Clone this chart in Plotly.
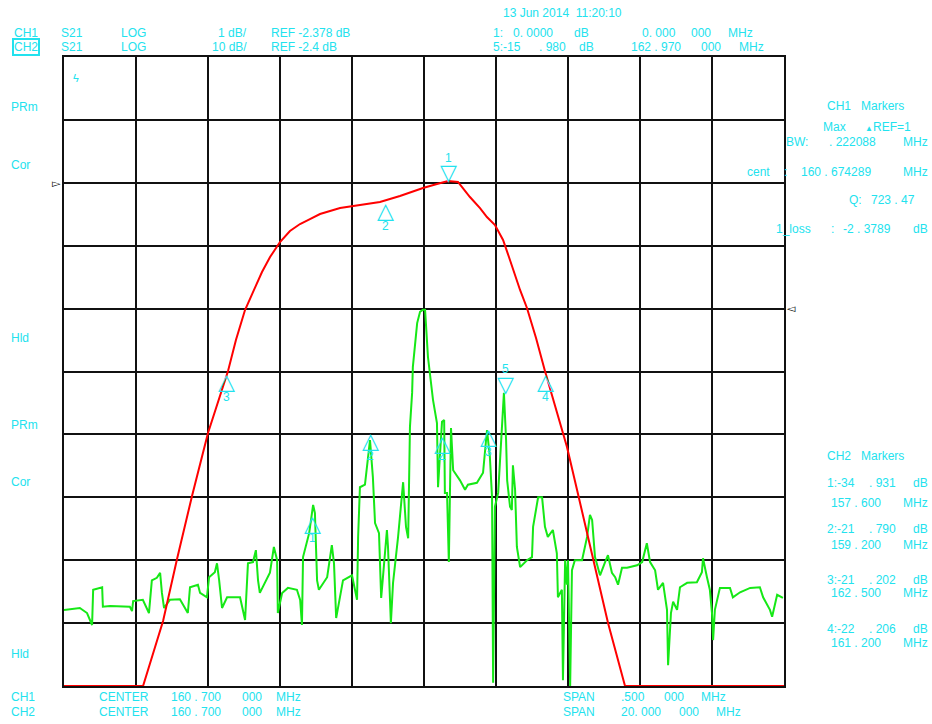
import plotly.graph_objects as go

# ---------------- data ----------------
# CH2 : S21, 10 dB/div, REF -2.4 dB, center 160.7 MHz, span 20 MHz
ch2_freq = [150.70, 151.14, 151.34, 151.48, 151.51, 151.76, 151.78, 151.98, 152.53, 152.59,
            152.62, 152.89, 153.06, 153.14, 153.28, 153.37, 153.42, 153.48, 153.64, 153.92,
            154.14, 154.20, 154.42, 154.48, 154.67, 154.73, 154.89, 154.95, 155.01, 155.09,
            155.23, 155.59, 155.73, 155.81, 155.95, 156.03, 156.09, 156.14, 156.42, 156.53,
            156.62, 156.64, 156.76, 156.92, 157.17, 157.26, 157.31, 157.34, 157.51, 157.62,
            157.67, 157.73, 157.78, 158.01, 158.14, 158.20, 158.26, 158.45, 158.70, 158.81,
            158.84, 158.87, 158.92, 159.06, 159.20, 159.28, 159.34, 159.45, 159.51, 159.56,
            159.67, 159.70, 159.78, 159.84, 159.98, 160.12, 160.20, 160.26, 160.31, 160.37,
            160.39, 160.51, 160.59, 160.67, 160.73, 160.81, 160.87, 160.95, 161.06, 161.09,
            161.14, 161.20, 161.26, 161.28, 161.34, 161.39, 161.45, 161.51, 161.70, 161.84,
            161.92, 162.17, 162.34, 162.45, 162.53, 162.59, 162.62, 162.67, 162.76, 162.89,
            162.92, 162.98, 163.01, 163.09, 163.14, 163.17, 163.23, 163.28, 163.37, 163.56,
            163.70, 163.73, 163.87, 163.98, 164.06, 164.14, 164.28, 164.39, 164.42, 164.53,
            164.56, 164.62, 164.67, 164.70, 164.76, 164.81, 164.89, 165.09, 165.23, 165.31,
            165.37, 165.45, 165.59, 165.73, 165.81, 165.92, 166.01, 166.09, 166.20, 166.34,
            166.62, 166.76, 166.89, 166.98, 167.12, 167.20, 167.34, 167.45, 167.48, 167.56,
            167.62, 167.73, 167.81, 168.01, 168.28, 168.42, 168.45, 168.56, 168.64, 168.70,
            168.73, 168.78, 168.92, 169.20, 169.28, 169.48, 169.76, 170.03, 170.12, 170.31,
            170.37, 170.51, 170.67]
ch2_db = [-50.3, -50.0, -50.8, -52.7, -47.1, -46.7, -49.8, -49.7, -49.8, -50.5,
          -48.9, -48.7, -50.8, -45.6, -45.2, -44.4, -47.6, -50.0, -48.7, -48.6,
          -50.8, -46.7, -46.3, -47.6, -48.3, -45.1, -44.3, -42.9, -45.6, -50.0,
          -48.3, -48.3, -51.9, -42.9, -42.7, -40.8, -45.6, -47.6, -44.4, -40.3,
          -42.4, -50.8, -47.6, -46.8, -47.1, -48.7, -52.7, -41.9, -38.1, -33.6,
          -34.9, -45.6, -47.1, -45.1, -40.0, -42.9, -51.6, -45.6, -44.8, -48.3,
          -48.7, -38.7, -30.8, -30.4, -23.3, -29.2, -36.5, -38.1, -48.4, -45.1,
          -37.6, -40.3, -52.4, -46.0, -38.7, -30.0, -37.1, -38.9, -21.2, -15.8,
          -11.7, -4.7, -2.9, -2.6, -2.6, -10.1, -13.3, -16.9, -20.6, -30.8,
          -26.0, -20.4, -20.1, -31.7, -31.7, -42.7, -21.4, -28.1, -29.7, -31.2,
          -30.4, -30.1, -28.5, -21.7, -26.0, -32.4, -61.9, -33.9, -31.7, -19.6,
          -15.8, -23.3, -29.7, -33.9, -34.4, -27.3, -31.2, -40.3, -43.5, -42.4,
          -41.9, -37.1, -32.4, -32.4, -37.1, -38.7, -37.6, -41.3, -48.3, -47.1,
          -61.5, -42.4, -46.3, -42.4, -62.4, -44.0, -42.4, -42.4, -38.7, -35.2,
          -36.0, -41.9, -44.8, -42.7, -41.6, -44.4, -45.1, -46.3, -43.6, -43.6,
          -43.2, -42.7, -39.7, -42.7, -44.0, -47.1, -46.0, -50.3, -59.1, -50.8,
          -49.0, -50.3, -46.7, -46.0, -45.9, -44.3, -42.1, -45.1, -47.1, -50.8,
          -55.1, -50.3, -46.8, -46.8, -48.3, -47.5, -46.8, -46.7, -48.3, -50.3,
          -51.4, -47.9, -48.4]

# CH1 : S21, 1 dB/div, REF -2.378 dB, center 160.7 MHz, span 0.5 MHz
ch1_freq = [160.4500, 160.5049, 160.5188, 160.5285, 160.5389, 160.5500, 160.5639, 160.5694,
            160.5757, 160.5819, 160.5875, 160.5931, 160.6000, 160.6069, 160.6139, 160.6208,
            160.6278, 160.6417, 160.6556, 160.6694, 160.6833, 160.6993, 160.7090, 160.7167,
            160.7236, 160.7285, 160.7319, 160.7389, 160.7437, 160.7493, 160.7549, 160.7590,
            160.7632, 160.7667, 160.7715, 160.7778, 160.7840, 160.7993, 160.8063, 160.8153,
            160.8278, 160.8396, 160.9500]
ch1_db = [-10.378, -10.378, -9.345, -8.359, -7.357, -6.356, -5.370, -4.877,
          -4.400, -4.082, -3.796, -3.558, -3.319, -3.144, -3.033, -2.954,
          -2.874, -2.779, -2.731, -2.683, -2.588, -2.461, -2.397, -2.349,
          -2.365, -2.508, -2.604, -2.779, -2.922, -3.049, -3.287, -3.558,
          -3.844, -4.082, -4.368, -4.845, -5.370, -6.578, -7.262, -8.136,
          -9.376, -10.378, -10.378]

# markers
ch1_mk_labels = ["1", "2", "3", "4"]
ch1_mk_freq = [160.7167, 160.6736, 160.5625, 160.7847]
ch1_mk_db = [-2.378, -2.66, -5.378, -5.378]
ch1_mk_dir = ["down", "up", "up", "up"]

ch2_mk_labels = ["1", "2", "3", "4", "5"]
ch2_mk_freq = [157.6, 159.2, 162.5, 161.2, 162.97]
ch2_mk_db = [-34.931, -21.79, -21.202, -22.206, -15.98]
ch2_mk_dir = ["up", "up", "up", "up", "down"]

# axis settings
ch2_center, ch2_span, ch2_ref, ch2_scale = 160.7, 20.0, -2.4, 10.0
ch1_center, ch1_span, ch1_ref, ch1_scale = 160.7, 0.5, -2.378, 1.0
ch2_ref_div, ch1_ref_div = 6, 8   # reference line position (divisions from bottom)

# ---------------- figure ----------------
CYAN = "#22e2ee"
FONT = "Liberation Sans, Arial, sans-serif"
W, H = 932, 724
L, R, T_, B = 64, 784, 57, 686

fig = go.Figure()
fig.add_trace(go.Scatter(x=ch2_freq, y=ch2_db, mode="lines",
                         line=dict(color="#16e816", width=2), xaxis="x", yaxis="y",
                         showlegend=False, hoverinfo="skip"))
fig.add_trace(go.Scatter(x=ch1_freq, y=ch1_db, mode="lines",
                         line=dict(color="#ff0000", width=2),
                         xaxis="x2", yaxis="y2", showlegend=False, hoverinfo="skip"))

ch2_bot = ch2_ref - ch2_ref_div * ch2_scale
ch1_bot = ch1_ref - ch1_ref_div * ch1_scale
grid = dict(showgrid=True, gridcolor="#111111", gridwidth=2, zeroline=False,
            showticklabels=False, ticks="", layer="below traces",
            showline=True, linecolor="#111111", linewidth=2, mirror=True)

anns = []


def P(x, y):
    return (x - L) / (R - L), (B - y) / (B - T_)


def txt(x, y, s, size=12, color=CYAN, xanchor="left", **kw):
    ax, ay = P(x, y)
    d = dict(x=ax, y=ay, xref="paper", yref="paper", text=s.replace(" ", "\u00a0"),
             showarrow=False, xanchor=xanchor, yanchor="middle",
             font=dict(family=FONT, size=size, color=color), borderpad=0)
    d.update(kw)
    anns.append(d)


# header
txt(13, 33, "CH1"); txt(60, 33, "S21"); txt(120, 33, "LOG")
txt(248, 33, "1 dB/", xanchor="right"); txt(270, 33, "REF -2.378 dB")
txt(12, 47, "CH2", bordercolor=CYAN, borderwidth=2)
txt(60, 47, "S21"); txt(120, 47, "LOG")
txt(248, 47, "10 dB/", xanchor="right"); txt(270, 47, "REF -2.4 dB")
txt(502, 13, "13 Jun 2014  11:20:10")
txt(492, 33, "1:"); txt(512, 33, "0. 0000"); txt(573, 33, "dB")
txt(641, 33, "0. 000"); txt(690, 33, "000"); txt(727, 33, "MHz")
txt(492, 47, "5:-15"); txt(538, 47, ". 980"); txt(578, 47, "dB")
txt(630, 47, "162 . 970"); txt(700, 47, "000"); txt(738, 47, "MHz")

# left soft-key labels
for yy, s in [(107, "PRm"), (165, "Cor"), (338, "Hld"), (425, "PRm"), (482, "Cor"), (654, "Hld")]:
    txt(10, yy, s)
txt(72, 78, "ϟ", size=11)

# right panel CH1
txt(826, 106, "CH1   Markers")
txt(822, 127, "Max"); txt(864, 128, "▲", size=8); txt(872, 127, "REF=1")
txt(785, 142, "BW:"); txt(828, 142, ". 222088"); txt(902, 142, "MHz")
txt(746, 172, "cent"); txt(783, 172, ":"); txt(800, 172, "160 . 674289"); txt(902, 172, "MHz")
txt(848, 200, "Q:"); txt(870, 200, "723 . 47")
txt(775, 229, "1_loss"); txt(830, 229, ":"); txt(842, 229, "-2 . 3789"); txt(912, 229, "dB")

# right panel CH2
txt(826, 456, "CH2   Markers")
ch2_rows = [("1:-34", ". 931", "157 . 600", 483, 503),
            ("2:-21", ". 790", "159 . 200", 529, 545),
            ("3:-21", ". 202", "162 . 500", 580, 593),
            ("4:-22", ". 206", "161 . 200", 629, 643)]
for a, b, c, y1, y2 in ch2_rows:
    txt(826, y1, a); txt(868, y1, b); txt(912, y1, "dB")
    txt(830, y2, c); txt(902, y2, "MHz")

# bottom
for yy, ch, span, s2, s3 in [(697, "CH1", ".500", "000", 663), (712, "CH2", "20. 000", "000", 678)]:
    txt(10, yy, ch); txt(98, yy, "CENTER"); txt(170, yy, "160 . 700"); txt(241, yy, "000"); txt(275, yy, "MHz")
    txt(562, yy, "SPAN"); txt(620, yy, span); txt(s3, yy, s2); txt(s3 + 37, yy, "MHz")

# reference pointers
txt(62, 183, "▻", size=11, color="#000000", xanchor="right")
txt(786, 308, "◅", size=11, color="#000000")


# marker glyphs
def markers(freqs, dbs, labels, dirs, xr, yr):
    for f, d, lab, di in zip(freqs, dbs, labels, dirs):
        up = di == "up"
        anns.append(dict(x=f, y=d, xref=xr, yref=yr, text="△" if up else "▽", showarrow=False,
                         xanchor="center", yanchor="middle", yshift=-10 if up else 10,
                         font=dict(family="DejaVu Sans", size=22, color=CYAN)))
        anns.append(dict(x=f, y=d, xref=xr, yref=yr, text=lab, showarrow=False,
                         xanchor="center", yanchor="middle", yshift=-25 if up else 25,
                         font=dict(family=FONT, size=12, color=CYAN)))


markers(ch1_mk_freq, ch1_mk_db, ch1_mk_labels, ch1_mk_dir, "x2", "y2")
markers(ch2_mk_freq, ch2_mk_db, ch2_mk_labels, ch2_mk_dir, "x", "y")

fig.update_layout(
    width=W, height=H,
    margin=dict(l=L, r=W - R, t=T_, b=H - B, pad=0),
    paper_bgcolor="white", plot_bgcolor="white",
    xaxis=dict(range=[ch2_center - ch2_span / 2, ch2_center + ch2_span / 2],
               tick0=ch2_center - ch2_span / 2, dtick=ch2_span / 10, **grid),
    yaxis=dict(range=[ch2_bot, ch2_bot + 10 * ch2_scale], tick0=ch2_bot, dtick=ch2_scale, **grid),
    xaxis2=dict(range=[ch1_center - ch1_span / 2, ch1_center + ch1_span / 2], overlaying="x",
                visible=False),
    yaxis2=dict(range=[ch1_bot, ch1_bot + 10 * ch1_scale], overlaying="y", visible=False),
    annotations=anns,
    showlegend=False,
)

fig.write_html("out.html", config={"displayModeBar": False},
               post_script="document.body.style.margin='0';document.body.style.overflow='hidden';")
